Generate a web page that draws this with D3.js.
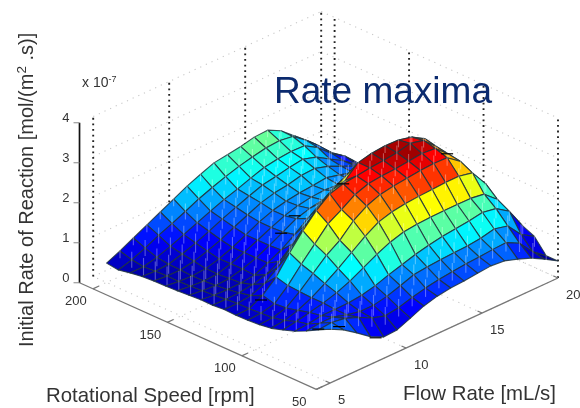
<!DOCTYPE html>
<html><head><meta charset="utf-8">
<style>html,body{margin:0;padding:0;background:#fff}svg{display:block;filter:blur(0.5px)}text{font-family:"Liberation Sans",Arial,sans-serif}</style>
<script src="https://cdnjs.cloudflare.com/ajax/libs/d3/7.8.5/d3.min.js"></script>
</head><body><script>
const speeds=[50,57.9,65.8,73.7,81.6,89.5,97.4,105.3,113.2,121.1,128.9,136.8,144.7,152.6,160.5,168.4,176.3,184.2,192.1,200];
const flows=[5,5.88,6.76,7.65,8.53,9.41,10.29,11.18,12.06,12.94,13.82,14.71,15.59,16.47,17.35,18.24,19.12,20];
const rate=[
[1.42,1.25,1.02,.77,.61,.63,.77,.92,1.01,1.06,1.08,1.12,1.15,1.12,1.01,.88,.70,.50],
[1.27,1.30,1.25,1.12,.95,.85,.90,1.00,1.08,1.14,1.18,1.22,1.24,1.27,1.29,1.12,.75,.50],
[1.11,1.15,1.15,1.05,.98,.98,1.05,1.16,1.28,1.32,1.35,1.37,1.38,1.42,1.50,1.42,1.05,.85],
[.97,1.00,1.05,1.05,1.06,1.10,1.18,1.30,1.40,1.50,1.58,1.64,1.68,1.72,1.78,1.72,1.50,.98],
[.87,.93,1.00,1.08,1.18,1.32,1.50,1.68,1.83,1.93,1.97,1.99,2.00,2.00,2.00,1.95,1.66,1.02],
[.78,.82,.92,1.08,1.28,1.50,1.75,2.00,2.20,2.30,2.35,2.38,2.40,2.42,2.42,2.35,1.92,1.15],
[.74,.76,.85,1.10,1.40,1.70,1.92,2.25,2.47,2.60,2.66,2.70,2.74,2.76,2.75,2.50,2.00,1.35],
[.72,.74,.82,1.12,1.50,1.85,2.20,2.40,2.62,2.74,2.78,2.80,2.84,2.88,2.85,2.55,2.05,1.50],
[.71,.72,.90,1.20,1.65,2.05,2.40,2.66,2.76,2.80,2.85,2.88,2.92,3.00,2.92,2.60,2.15,1.60],
[.72,.72,.76,.90,1.15,1.50,1.85,2.15,2.35,2.55,2.85,2.93,2.96,2.95,2.87,2.67,2.20,1.75],
[.70,.69,.70,.75,.84,1.02,1.30,1.65,1.95,2.20,2.40,2.55,2.60,2.62,2.55,2.40,2.10,1.90],
[.70,.66,.65,.66,.70,.85,1.02,1.25,1.50,1.75,1.98,2.15,2.25,2.30,2.28,2.20,2.05,2.00],
[.68,.64,.62,.64,.72,.84,1.00,1.18,1.36,1.46,1.52,1.60,1.68,1.74,1.78,1.82,1.85,1.90],
[.66,.62,.60,.62,.72,.85,1.00,1.16,1.30,1.40,1.46,1.48,1.46,1.42,1.42,1.48,1.60,1.72],
[.65,.61,.59,.62,.71,.84,1.00,1.17,1.30,1.38,1.43,1.46,1.50,1.42,1.32,1.20,1.20,1.50],
[.64,.61,.61,.67,.77,.90,1.06,1.21,1.36,1.45,1.50,1.58,1.60,1.50,1.35,1.20,1.05,1.10],
[.62,.60,.62,.72,.84,.98,1.13,1.27,1.40,1.52,1.58,1.65,1.70,1.60,1.40,1.20,.95,.72],
[.58,.58,.66,.78,.92,1.06,1.20,1.33,1.44,1.56,1.67,1.73,1.76,1.75,1.55,1.25,1.03,.70],
[.52,.62,.76,.92,1.06,1.21,1.37,1.50,1.62,1.72,1.80,1.87,1.90,1.85,1.60,1.30,.97,.66],
[.56,.71,.88,1.05,1.22,1.39,1.56,1.70,1.83,1.88,1.93,2.01,2.03,1.86,1.58,1.30,.97,.64]];
const errorBySpeed=[.14,.22,.26,.24,.22,.2,.2,.18,.18,.18,.2,.22,.24,.26,.26,.24,.24,.22,.2,.18];
const caps=[[113.2,12.06,2.76],[97.4,17.35,2.85],[136.8,11.18,1.72],[136.8,10.29,1.44],[105.3,5.88,1.07],[57.9,5,1.29],[50,8,.68],[50,5.6,1.38]];
const speedTicks=[200,150,100,50];
const flowTicks=[5,10,15,20];
const rateTicks=[0,1,2,3,4];
const colorStops=[.45,1.0,1.75,2.1,2.4,2.85,2.96];
const colorValues=["#000090","#0000ff","#00ffff","#80ff80","#ffff00","#ff0000","#a00000"];

const W=580,H=408,floorZ=.075,speedFar=209,flowNear=4.1;
const xS=d3.scaleLinear().domain([50,200]).range([330,106.6]);
const xF=d3.scaleLinear().domain([5,20]).range([0,228]);
const yS=d3.scaleLinear().domain([50,200]).range([386,285.5]);
const yF=d3.scaleLinear().domain([5,20]).range([0,-105]);
const yZ=d3.scaleLinear().domain([0,4]).range([0,-160]);
const color=d3.scaleLinear().domain(colorStops).range(colorValues).clamp(true);
const P=(s,f,z)=>[xS(s)+xF(f),yS(s)+yF(f)+yZ(z)];
const line=d3.line();
const svg=d3.select("body").append("svg").attr("width",W).attr("height",H);
const seg=(g,a,b,o)=>g.append("path").attr("d",line([a,b])).attr("fill","none")
  .attr("stroke",o.c).attr("stroke-width",o.w||1).attr("stroke-dasharray",o.d||null);

// walls and floor grid
const grid=svg.append("g");
const faint={c:"#c8c8c8",w:1.1,d:"1.2 5"};
rateTicks.forEach(k=>{
  const z=k+floorZ;
  seg(grid,P(speedFar,5,z),P(speedFar,20,z),faint);
  seg(grid,P(speedFar,20,z),P(50,20,z),faint);
});
speedTicks.forEach(s=>seg(grid,P(s,flowNear,floorZ),P(s,20,floorZ),faint));
flowTicks.forEach(f=>seg(grid,P(50,f,floorZ),P(speedFar,f,floorZ),faint));
const dots={c:"#222",w:1.9,d:"1.8 3.8"};
flowTicks.forEach(f=>seg(grid,P(speedFar,f,floorZ),P(speedFar,f,4+floorZ),dots));
speedTicks.forEach(s=>seg(grid,P(s,20,floorZ),P(s,20,4+floorZ),dots));

// axes
const axes=svg.append("g");
const gray={c:"#777",w:1.3};
seg(axes,P(speedFar,flowNear,floorZ),P(50,flowNear,floorZ),gray);
seg(axes,P(50,flowNear,floorZ),P(50,20,floorZ),gray);
seg(axes,P(speedFar,flowNear,floorZ),P(speedFar,flowNear,4+floorZ),{c:"#111",w:1.7});
const tickFont=13,ink="#333";
const label=(t,x,y,a,fs)=>svg.append("text").attr("x",x).attr("y",y).attr("text-anchor",a).attr("font-size",fs).attr("fill",ink).text(t);
rateTicks.forEach(k=>{
  const p=P(speedFar,flowNear,k+floorZ);
  seg(axes,[p[0]-6,p[1]],p,{c:"#888",w:1});
  label(k,p[0]-10,p[1]-1,"end",tickFont);
});
speedTicks.forEach(s=>{
  const p=P(s,flowNear,floorZ);
  const q=P(s,flowNear+.4,floorZ);
  seg(axes,p,q,gray);
  label(s,p[0]-17,p[1]+16.5,"middle",tickFont);
});
flowTicks.forEach(f=>{
  const p=P(50,f,floorZ);
  const q=P(50+3,f,floorZ);
  seg(axes,p,q,gray);
  label(f,p[0]+8,p[1]+21,"start",tickFont);
});

// surface: far cells first so nearer cells cover them
const cells=[];
for(let i=speeds.length-2;i>=0;i--)for(let j=flows.length-2;j>=0;j--)cells.push([i,j]);
const surf=svg.append("g");
cells.forEach(([i,j])=>{
  const c=[[i,j],[i+1,j],[i+1,j+1],[i,j+1]].map(([a,b])=>P(speeds[a],flows[b],rate[a][b]));
  surf.append("path").attr("d",line(c)+"Z").attr("fill",color(rate[i+1][j+1]))
    .attr("stroke","#20343c").attr("stroke-opacity",.85).attr("stroke-width",1.1).attr("stroke-linejoin","round");
  const e=errorBySpeed[i+1],z=rate[i+1][j+1];
  surf.append("path").attr("d",line([P(speeds[i+1],flows[j+1],z-e),P(speeds[i+1],flows[j+1],z+e)]))
    .attr("stroke","#fff").attr("stroke-opacity",.34).attr("stroke-width",1.1);
});
caps.forEach(([s,f,z])=>{
  const p=P(s,f,z);
  surf.append("path").attr("d",line([[p[0]-6,p[1]],[p[0]+6,p[1]]])).attr("stroke","#000").attr("stroke-width",1.2);
});

// texts
svg.append("text").attr("x",82).attr("y",87).attr("font-size",14).attr("fill",ink)
  .text("x 10").append("tspan").attr("dy",-5).attr("font-size",9).text("-7");
label("Rotational Speed [rpm]",46,402,"start",20.4);
label("Flow Rate [mL/s]",403,400,"start",20.4);
const yl=svg.append("text").attr("transform","translate(33,347) rotate(-90)").attr("font-size",20).attr("fill",ink);
yl.append("tspan").text("Initial Rate of Reaction [mol/(m");
yl.append("tspan").attr("dy",-7).attr("font-size",13.5).text("2");
yl.append("tspan").attr("dy",7).text(" .s)]");
svg.append("text").attr("x",274).attr("y",103).attr("font-size",37).attr("fill","#0b2a6e").text("Rate maxima");
</script></body></html>
